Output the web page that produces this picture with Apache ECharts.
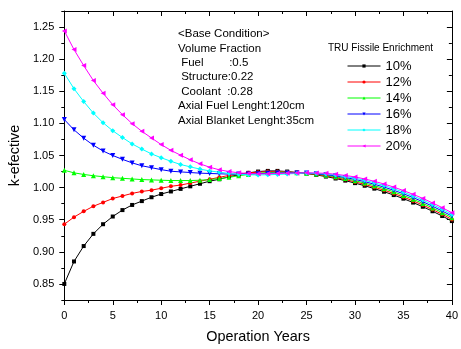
<!DOCTYPE html>
<html>
<head>
<meta charset="utf-8">
<script src="https://cdn.jsdelivr.net/npm/echarts@6/dist/echarts.min.js"></script>
<style>
  html, body { margin: 0; padding: 0; background: #fff; }
  #chart { width: 461px; height: 349px; }
</style>
</head>
<body>
<div id="chart"></div>
<script>
(function() {
  var font = '"Liberation Sans", Arial, sans-serif';

  var years = [0, 1, 2, 3, 4, 5, 6, 7, 8, 9, 10, 11, 12, 13, 14, 15, 16, 17, 18, 19, 20,
               21, 22, 23, 24, 25, 26, 27, 28, 29, 30, 31, 32, 33, 34, 35, 36, 37, 38, 39, 40];

  var k10 = [0.850, 0.885, 0.909, 0.928, 0.943, 0.955, 0.965, 0.973, 0.979, 0.985,
             0.990, 0.994, 0.998, 1.002, 1.006, 1.010, 1.013, 1.017, 1.020, 1.023,
             1.025, 1.026, 1.026, 1.025, 1.0235, 1.022, 1.0198, 1.0172, 1.0142, 1.0109,
             1.007, 1.0029, 0.9984, 0.9936, 0.9884, 0.9828, 0.9767, 0.9702, 0.9632, 0.9558, 0.9479];
  var k12 = [0.943, 0.954, 0.963, 0.971, 0.977, 0.983, 0.987, 0.991, 0.994, 0.996,
             0.999, 1.002, 1.004, 1.007, 1.010, 1.013, 1.016, 1.019, 1.021, 1.023,
             1.024, 1.025, 1.025, 1.0245, 1.0235, 1.0222, 1.0204, 1.0182, 1.0155, 1.0125,
             1.0089, 1.005, 1.0007, 0.996, 0.9909, 0.9853, 0.9793, 0.9728, 0.9658, 0.9584, 0.9505];
  var k14 = [1.027, 1.023, 1.0205, 1.0185, 1.017, 1.0155, 1.0145, 1.0135, 1.0125, 1.012,
             1.0115, 1.011, 1.011, 1.011, 1.0115, 1.0125, 1.014, 1.016, 1.0185, 1.0205,
             1.0222, 1.0235, 1.024, 1.024, 1.0233, 1.0224, 1.021, 1.0192, 1.0168, 1.0141,
             1.0108, 1.0071, 1.003, 0.9984, 0.9934, 0.9878, 0.9818, 0.9754, 0.9684, 0.961, 0.9531];
  var k16 = [1.106, 1.090, 1.077, 1.066, 1.057, 1.050, 1.044, 1.0385, 1.034, 1.031,
             1.028, 1.0255, 1.0245, 1.0235, 1.0225, 1.022, 1.0215, 1.021, 1.021, 1.0212,
             1.0217, 1.0222, 1.0226, 1.0228, 1.0228, 1.0226, 1.0216, 1.0202, 1.0182, 1.0157,
             1.0128, 1.0093, 1.0052, 1.0008, 0.9958, 0.9904, 0.9844, 0.978, 0.971, 0.9636, 0.9557];
  var k18 = [1.178, 1.154, 1.134, 1.116, 1.101, 1.0885, 1.078, 1.068, 1.060, 1.0525,
             1.0465, 1.041, 1.036, 1.0323, 1.0288, 1.026, 1.024, 1.022, 1.0207, 1.020,
             1.0198, 1.020, 1.0205, 1.0213, 1.022, 1.0228, 1.0222, 1.0212, 1.0195, 1.0173,
             1.0147, 1.0114, 1.0075, 1.0032, 0.9983, 0.9929, 0.9869, 0.9806, 0.9736, 0.9662, 0.9583];
  var k20 = [1.244, 1.215, 1.190, 1.1667, 1.147, 1.129, 1.1136, 1.0996, 1.0877, 1.0773,
             1.067, 1.058, 1.0505, 1.0432, 1.037, 1.0318, 1.0277, 1.025, 1.023, 1.022,
             1.0215, 1.0215, 1.022, 1.0225, 1.0228, 1.023, 1.0228, 1.0222, 1.0208, 1.0189,
             1.0166, 1.0135, 1.0098, 1.0056, 1.0008, 0.9954, 0.9895, 0.9832, 0.9762, 0.9688, 0.9609];

  var seriesNames = ['10%', '12%', '14%', '16%', '18%', '20%'];
  var seriesValues = [k10, k12, k14, k16, k18, k20];
  var colors = ['#000000', '#ff0000', '#00ff00', '#0000ff', '#00ffff', '#ff00ff'];
  var symbols = ['rect', 'circle', 'triangle', 'triangle', 'diamond', 'triangle'];
  var symbolRotates = [0, 0, 0, 180, 0, 90];
  var symbolSizes = [4, 4, 5, 5, 5, 5];

  var yLabelValues = [0.85, 0.90, 0.95, 1.00, 1.05, 1.10, 1.15, 1.20, 1.25];

  var notes = ['<Base Condition>', 'Volume Fraction', ' Fuel        :0.5', ' Structure:0.22',
               ' Coolant  :0.28', 'Axial Fuel Lenght:120cm', 'Axial Blanket Lenght:35cm'];
  var legendTitle = 'TRU Fissile Enrichment';

  var chart = echarts.init(document.getElementById('chart'), null, { renderer: 'canvas' });

  var black = { color: '#000', width: 1 };

  var series = seriesNames.map(function(name, s) {
    return {
      name: name,
      type: 'line',
      xAxisIndex: 0,
      yAxisIndex: 0,
      data: years.map(function(y, i) { return [y, seriesValues[s][i]]; }),
      symbol: symbols[s],
      symbolRotate: symbolRotates[s],
      symbolSize: symbolSizes[s],
      showAllSymbol: true,
      itemStyle: { color: colors[s] },
      lineStyle: { color: colors[s], width: 1 },
      emphasis: { disabled: true }
    };
  });

  var graphics = notes.map(function(t, i) {
    return {
      type: 'text',
      x: 178,
      y: 34 + i * 14.4,
      style: {
        text: t,
        fill: '#000',
        font: '11.5px ' + font,
        verticalAlign: 'middle'
      }
    };
  });
  graphics.push({
    type: 'text',
    x: 328,
    y: 48,
    style: { text: legendTitle, fill: '#000', font: '10px ' + font, verticalAlign: 'middle' }
  });

  chart.setOption({
    animation: false,
    backgroundColor: '#fff',
    textStyle: { fontFamily: font },
    grid: { left: 64, right: 5, top: 11, bottom: 48 },
    legend: {
      data: seriesNames,
      orient: 'vertical',
      left: 347,
      top: 59,
      padding: 0,
      itemWidth: 33,
      itemHeight: 4,
      itemGap: 2,
      lineStyle: { width: 1 },
      textStyle: { fontSize: 13, color: '#000', lineHeight: 14 }
    },
    xAxis: [
      {
        type: 'value', min: 0, max: 40, interval: 5, position: 'bottom',
        name: 'Operation Years', nameLocation: 'middle', nameGap: 30,
        nameTextStyle: { fontSize: 14.4, color: '#000' },
        axisLine: { lineStyle: black },
        axisTick: { length: 5, lineStyle: black },
        minorTick: { show: true, splitNumber: 2, length: 3, lineStyle: black },
        axisLabel: { fontSize: 11, color: '#000', margin: 10 },
        splitLine: { show: false }
      },
      {
        type: 'value', min: 0, max: 40, interval: 5, position: 'top',
        axisLine: { lineStyle: black },
        axisTick: { inside: true, length: 5, lineStyle: black },
        minorTick: { show: true, splitNumber: 2, length: 3, lineStyle: black },
        axisLabel: { show: false },
        splitLine: { show: false }
      }
    ],
    yAxis: [
      {
        type: 'value', min: 0.825, max: 1.275, position: 'left',
        name: 'k-efective', nameLocation: 'middle', nameGap: 35,
        nameTextStyle: { fontSize: 14.4, color: '#000' },
        axisLine: { lineStyle: black },
        axisTick: { customValues: yLabelValues, length: 5, lineStyle: black },
        axisLabel: {
          customValues: yLabelValues, fontSize: 11, color: '#000', margin: 10,
          formatter: function(v) { return v.toFixed(2); }
        },
        splitLine: { show: false }
      },
      {
        type: 'value', min: 0.825, max: 1.275, interval: 0.025, position: 'left',
        axisLine: { show: false },
        axisTick: { length: 3, lineStyle: black },
        axisLabel: { show: false },
        splitLine: { show: false }
      },
      {
        type: 'value', min: 0.825, max: 1.275, position: 'right',
        axisLine: { lineStyle: black },
        axisTick: { customValues: yLabelValues, inside: true, length: 5, lineStyle: black },
        axisLabel: { show: false },
        splitLine: { show: false }
      },
      {
        type: 'value', min: 0.825, max: 1.275, interval: 0.025, position: 'right',
        axisLine: { show: false },
        axisTick: { inside: true, length: 3, lineStyle: black },
        axisLabel: { show: false },
        splitLine: { show: false }
      }
    ],
    graphic: graphics,
    series: series
  });

  window.addEventListener('resize', function() { chart.resize(); });
})();
</script>
</body>
</html>
